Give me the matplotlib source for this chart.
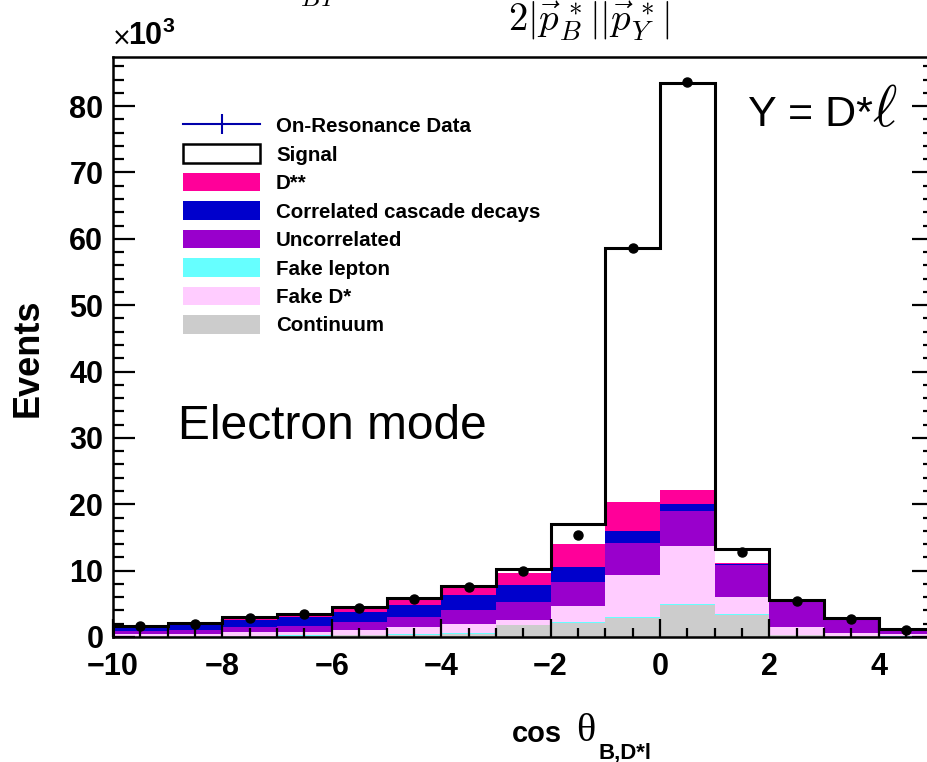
import numpy as np
import matplotlib
matplotlib.use('Agg')
import matplotlib.pyplot as plt
from matplotlib.patches import Patch
from matplotlib.lines import Line2D
from matplotlib.ticker import MultipleLocator

plt.rcParams['font.family'] = 'Liberation Sans'
plt.rcParams['mathtext.fontset'] = 'custom'
plt.rcParams['mathtext.bf'] = 'Liberation Sans:bold'
plt.rcParams['mathtext.rm'] = 'Liberation Serif'
plt.rcParams['mathtext.it'] = 'Liberation Serif:italic'

# Bin edges of cos theta_B,D*l (width 1)
bin_left = np.arange(-10, 5)

# Stacked components, in units of 10^3 events (bottom to top)
continuum = [0.1, 0.1, 0.15, 0.2, 0.25, 0.3, 0.5, 1.75, 2.1, 2.9, 4.8, 3.3, 0.3, 0.1, 0.05]
fake_lepton = [0.05, 0.05, 0.05, 0.05, 0.05, 0.1, 0.1, 0.1, 0.15, 0.15, 0.15, 0.1, 0.05, 0.05, 0.05]
fake_dstar = [0.25, 0.3, 0.55, 0.55, 0.75, 1.15, 1.36, 0.75, 2.35, 6.25, 8.8, 2.7, 1.2, 0.5, 0.3]
uncorrelated = [0.45, 0.6, 0.8, 0.9, 1.25, 1.5, 2.14, 2.7, 3.7, 4.8, 5.25, 4.7, 3.65, 1.95, 0.6]
correlated = [0.45, 0.75, 0.95, 1.3, 1.4, 1.75, 2.2, 2.5, 2.3, 1.8, 1.0, 0.2, 0.05, 0.02, 0.0]
d_2star = [0.1, 0.1, 0.2, 0.3, 0.5, 0.8, 1.2, 1.9, 3.4, 4.4, 2.2, 0.1, 0.0, 0.0, 0.0]
signal = [0.26, 0.25, 0.3, 0.2, 0.3, 0.3, 0.2, 0.5, 3.1, 38.3, 61.3, 2.2, 0.3, 0.3, 0.15]

# On-resonance data points
data = [1.6, 2.0, 2.9, 3.4, 4.4, 5.8, 7.6, 9.9, 15.4, 58.6, 83.7, 12.8, 5.4, 2.7, 1.0]

colors = {
    'Continuum': '#cccccc',
    'Fake lepton': '#66ffff',
    'Fake D*': '#ffccff',
    'Uncorrelated': '#9900cc',
    'Correlated cascade decays': '#0000cc',
    'D**': '#ff0099',
    'Signal': 'white',
}
stack = [
    (continuum, 'Continuum'),
    (fake_lepton, 'Fake lepton'),
    (fake_dstar, 'Fake D*'),
    (uncorrelated, 'Uncorrelated'),
    (correlated, 'Correlated cascade decays'),
    (d_2star, 'D**'),
    (signal, 'Signal'),
]
legend_order = ['Signal', 'D**', 'Correlated cascade decays', 'Uncorrelated',
                'Fake lepton', 'Fake D*', 'Continuum']

fig = plt.figure(figsize=(9.27, 7.62), dpi=100)
W, H = 927.0, 762.0
# axes: x=-10 at px 113, x=5 at px ~933 (cut off on the right)
ax = fig.add_axes([113 / W, 1 - 637 / H, 820.5 / W, 580 / H])

# Draw the stack
bottom = np.zeros(len(bin_left))
for vals, name in stack:
    vals = np.array(vals)
    ax.bar(bin_left, vals, width=1.0, bottom=bottom, align='edge',
           color=colors[name], linewidth=0)
    bottom = bottom + vals

# Outline of the total stack
edges = np.append(bin_left, bin_left[-1] + 1)
ax.stairs(bottom, edges, color='black', linewidth=2.2, baseline=None)
ax.vlines(edges[0], 0, bottom[0], color='black', linewidth=2.2)

# Data points
ax.plot(bin_left + 0.5, data, 'o', color='black', markersize=6.5, zorder=5)

ax.set_xlim(-10, 5)
ax.set_ylim(0, 87.4)

ax.xaxis.set_major_locator(MultipleLocator(2))
ax.xaxis.set_minor_locator(MultipleLocator(0.5))
ax.yaxis.set_major_locator(MultipleLocator(10))
ax.yaxis.set_minor_locator(MultipleLocator(2))
ax.tick_params(which='both', direction='in', width=1.6, top=False, right=True)
ax.tick_params(which='major', axis='x', length=13, pad=10.5)
ax.tick_params(which='minor', axis='x', length=6.5)
ax.tick_params(which='major', axis='y', length=16, pad=7)
ax.tick_params(which='minor', axis='y', length=8)
for lab in ax.get_xticklabels() + ax.get_yticklabels():
    lab.set_fontsize(22)
    lab.set_fontweight('bold')
for sp in ax.spines.values():
    sp.set_linewidth(1.8)
ax.set_zorder(1)

# Legend
handles = [Line2D([0], [0], color='#0000aa', linewidth=1.5, marker='|',
                  markersize=14, markeredgewidth=1.5)]
labels = ['On-Resonance Data']
for name in legend_order:
    if name == 'Signal':
        handles.append(Patch(facecolor='white', edgecolor='black', linewidth=1.8))
    else:
        handles.append(Patch(facecolor=colors[name], edgecolor=colors[name], linewidth=0))
    labels.append(name)
leg = ax.legend(handles, labels, loc='upper left', bbox_to_anchor=(183 / W, 1 - 116 / H),
                bbox_transform=fig.transFigure, frameon=False, borderpad=0,
                borderaxespad=0, handlelength=3.75, handleheight=1.0,
                labelspacing=0.4, handletextpad=0.77,
                prop={'weight': 'bold', 'size': 14.8})

# Annotations
fig.text(748 / W, 1 - 126 / H, 'Y = D*', fontsize=31, ha='left', va='baseline')
fig.text(872 / W, 1 - 126 / H, r'$\ell$', fontsize=42, math_fontfamily='cm',
         ha='left', va='baseline')
fig.text(178 / W, 1 - 439 / H, 'Electron mode', fontsize=34.5, ha='left', va='baseline')

# exponent label
fig.text(111 / W, 1 - 45 / H, r'$\times$', fontsize=17, ha='left', va='baseline',
         math_fontfamily='dejavusans')
fig.text(128 / W, 1 - 45 / H, r'$\mathbf{10^{3}}$', fontsize=22, ha='left', va='baseline')

# axis titles
fig.text(28 / W, 1 - 358 / H, 'Events', rotation=90, fontsize=26, fontweight='bold',
         ha='center', va='center')
fig.text(512 / W, 1 - 742 / H, 'cos', fontsize=21, fontweight='bold',
         ha='left', va='baseline')
fig.text(576 / W, 1 - 741 / H, '\u03b8', fontsize=29, family='Liberation Serif',
         ha='left', va='baseline')
fig.text(599 / W, 1 - 758 / H, 'B,D*l', fontsize=16, fontweight='bold',
         ha='left', va='baseline')

# formula at the top, partly cut by the image border
fig.text(508 / W, 1 - 31 / H, r'$2|\vec{p}_B^{\,*}||\vec{p}_Y^{\,*}|$', fontsize=28,
         math_fontfamily='cm', ha='left', va='baseline')
fig.text(230 / W, 1 - 1 / H, r'$\cos\theta_{BY}$', fontsize=26,
         math_fontfamily='cm', ha='left', va='baseline')

fig.savefig('out.png', dpi=100)
